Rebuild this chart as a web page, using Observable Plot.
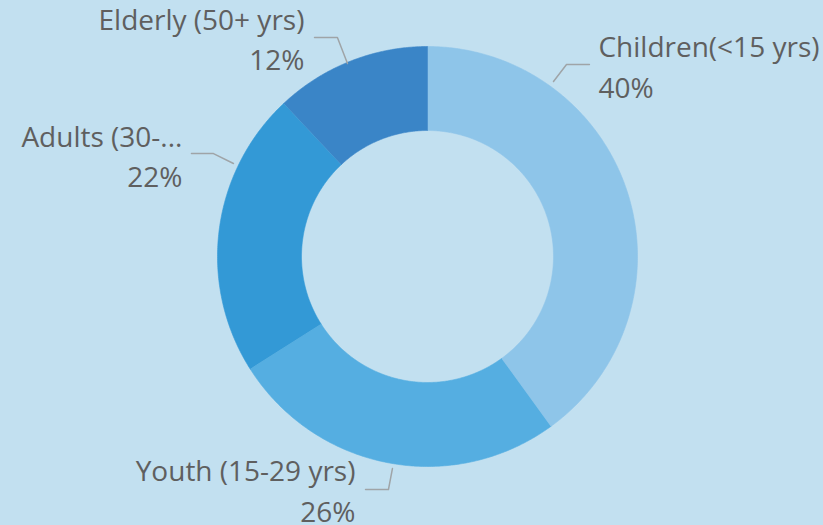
<!DOCTYPE html>
<html>
<head>
<meta charset="utf-8">
<script src="https://cdn.jsdelivr.net/npm/d3@7"></script>
<script src="https://cdn.jsdelivr.net/npm/@observablehq/plot@0.6"></script>
<style>
  html, body { margin: 0; padding: 0; background: #c2e0f0; }
  #chart svg { display: block; }
</style>
</head>
<body>
<div id="chart"></div>
<script>
// ---- data ----
const categories = ["Children(<15 yrs)", "Youth (15-29 yrs)", "Adults (30-...", "Elderly (50+ yrs)"];
const shares = [40, 26, 22, 12];
const colors = ["#8ec5e9", "#55aee1", "#3399d6", "#3a85c7"];

// ---- layout (chart units: outer radius = 1, centre at 0,0) ----
const W = 823, H = 525, CX = 427, CY = 256, R = 210;
const innerRatio = 0.6;
// label anchor (baseline of percentage line) and leader-line bends, per category
const labelPos = [
  {x: 0.814, y: 0.757, anchor: "start"},
  {x: -0.343, y: -1.262, anchor: "end"},
  {x: -1.167, y: 0.333, anchor: "end"},
  {x: -0.586, y: 0.890, anchor: "end"}
];
const leaders = [
  [[0.600, 0.833], [0.662, 0.914], [0.771, 0.914]],
  [[-0.167, -1.010], [-0.186, -1.110], [-0.295, -1.110]],
  [[-0.924, 0.443], [-1.019, 0.490], [-1.124, 0.490]],
  [[-0.381, 0.919], [-0.429, 1.043], [-0.538, 1.043]]
];

// ---- build arc polygons from the shares ----
const total = d3.sum(shares);
const arcPts = [];
let acc = 0;
categories.forEach((name, i) => {
  const a0 = acc / total * 2 * Math.PI;
  acc += shares[i];
  const a1 = acc / total * 2 * Math.PI;
  const n = Math.max(8, Math.ceil((a1 - a0) / (Math.PI / 360)));
  for (let k = 0; k <= n; k++) {
    const a = a0 + (a1 - a0) * k / n;
    arcPts.push({name, x: Math.sin(a), y: Math.cos(a)});
  }
  for (let k = n; k >= 0; k--) {
    const a = a0 + (a1 - a0) * k / n;
    arcPts.push({name, x: innerRatio * Math.sin(a), y: innerRatio * Math.cos(a)});
  }
});

const leaderPts = leaders.flatMap((pts, i) => pts.map(([x, y]) => ({name: categories[i], x, y})));
const labels = categories.map((name, i) => ({
  text: `${name}\n${shares[i]}%`, x: labelPos[i].x, y: labelPos[i].y, anchor: labelPos[i].anchor
}));

const textStyle = {x: "x", y: "y", text: "text", lineAnchor: "bottom", lineHeight: 1.43, fontSize: 28,
  fill: "#5f5f5f", fontFamily: "'Open Sans', 'Noto Sans', sans-serif"};

const chart = Plot.plot({
  width: W, height: H,
  margin: 0,
  style: {background: "#c2e0f0", overflow: "visible"},
  x: {domain: [-CX / R, (W - CX) / R], range: [0, W], axis: null},
  y: {domain: [-(H - CY) / R, CY / R], range: [H, 0], axis: null},
  color: {domain: categories, range: colors},
  marks: [
    Plot.line(arcPts, {x: "x", y: "y", z: "name", fill: "name", stroke: "name", strokeWidth: 0.6, curve: "linear"}),
    Plot.line(leaderPts, {x: "x", y: "y", z: "name", stroke: "#9fa4a7", strokeWidth: 1.5}),
    Plot.text(labels.filter(d => d.anchor === "start"), {...textStyle, textAnchor: "start"}),
    Plot.text(labels.filter(d => d.anchor === "end"), {...textStyle, textAnchor: "end"})
  ]
});
document.getElementById("chart").appendChild(chart);
</script>
</body>
</html>
